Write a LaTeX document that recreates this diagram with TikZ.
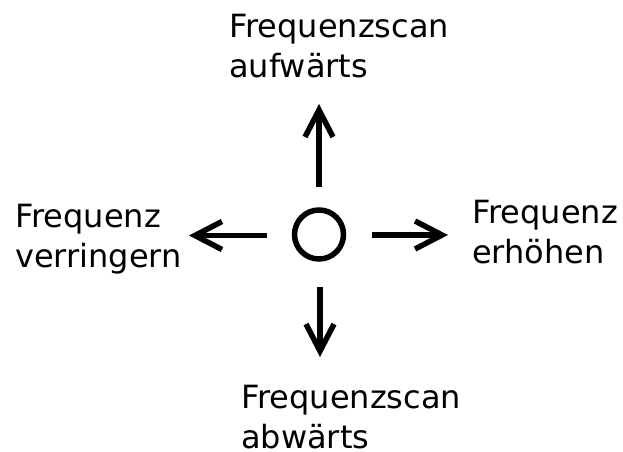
\documentclass[tikz,border=0pt]{standalone}
\usepackage{fontspec}
\setmainfont{DejaVu Sans}
\usetikzlibrary{arrows.meta}
\begin{document}
\begin{tikzpicture}[x=1pt,y=-1pt,
  lbl/.style={anchor=base west,inner sep=0pt,align=left,font=\fontsize{32}{39.5}\selectfont},
  arr/.style={line width=5.5pt,-{Straight Barb[length=27pt,width=28pt]}},
  ring/.style={circle,draw,line width=5.5pt,minimum size=49pt,inner sep=0pt}]
\useasboundingbox (0,0) rectangle (623,451);
\node[ring] (c) at (319,234.5) {};
\coordinate (us) at (319,187); \coordinate (ue) at (319,104);
\coordinate (ds) at (320,287); \coordinate (de) at (320,357);
\coordinate (ls) at (267,235.5); \coordinate (le) at (189,235.5);
\coordinate (rs) at (372,235); \coordinate (re) at (448,235);
\draw[arr] (us) -- (ue);
\draw[arr] (ds) -- (de);
\draw[arr] (ls) -- (le);
\draw[arr] (rs) -- (re);
\node[lbl] (top) at (229,77) {Frequenzscan\\aufwärts};
\node[lbl] (right) at (472,263) {Frequenz\\erhöhen};
\node[lbl] (bottom) at (241,448) {Frequenzscan\\abwärts};
\node[lbl] (left) at (15,267) {Frequenz\\verringern};
\end{tikzpicture}
\end{document}
